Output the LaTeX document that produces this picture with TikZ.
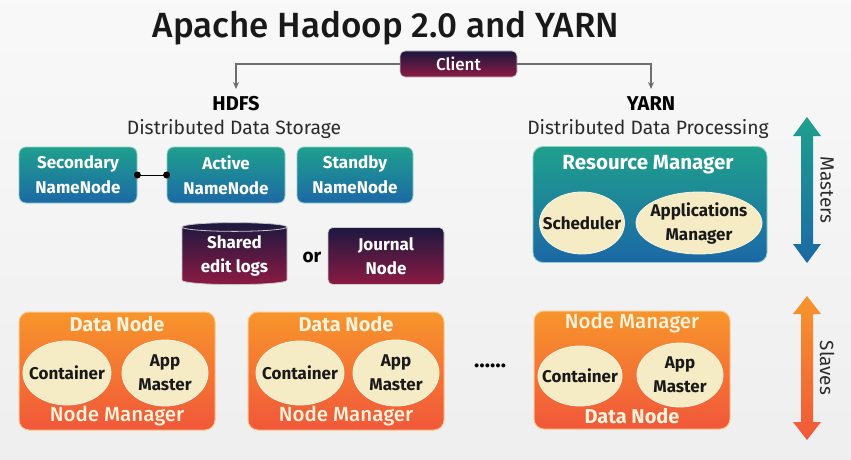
\documentclass[tikz,border=0pt]{standalone}
\usepackage{fontspec}
\setmainfont{Fira Sans}
\newfontfamily\mediumfont{Fira Sans Medium}
\usetikzlibrary{shapes.geometric,arrows.meta}
\definecolor{tealtop}{HTML}{1FA08D}
\definecolor{bluebot}{HTML}{1C68A6}
\definecolor{navytop}{HTML}{1B1840}
\definecolor{maroonbot}{HTML}{8C1A42}
\definecolor{orangetop}{HTML}{F7952B}
\definecolor{orangebot}{HTML}{F1573A}
\definecolor{cream}{HTML}{F5EBC5}
\definecolor{linegray}{HTML}{6E6E6E}
\definecolor{inktext}{HTML}{2A2A2A}
\begin{document}
\begin{tikzpicture}[x=1pt,y=-1pt,
    tealbox/.style={rectangle,rounded corners=7pt,top color=tealtop,bottom color=bluebot,draw=tealtop!50!white,line width=0.8pt,text=white,font=\bfseries\fontsize{17}{25}\selectfont,align=center,minimum width=118pt,minimum height=56pt,inner sep=0pt},
    darkbox/.style={rectangle,rounded corners=5pt,top color=navytop,bottom color=maroonbot,draw=gray!40,line width=0.6pt,text=white,font=\bfseries\fontsize{17}{24}\selectfont,align=center,inner sep=0pt},
    orangebox/.style={rectangle,rounded corners=10pt,top color=orangetop,bottom color=orangebot,draw=orangetop!55!white,line width=1pt,minimum width=196pt,minimum height=118pt},
    bubble/.style={ellipse,fill=cream,draw=cream!50!white,line width=0.8pt,inner xsep=-16pt,inner ysep=-10pt,font=\bfseries\fontsize{17}{24}\selectfont,align=center,text=black!90},
    boxtitle/.style={text=white,font=\bfseries\fontsize{20.5}{22}\selectfont},
    orangetitle/.style={text=cream!60!white,font=\bfseries\fontsize{20}{22}\selectfont},
    nmtitle/.style={text=cream!60!white,font=\mediumfont\fontsize{20.5}{22}\selectfont},
    heading/.style={text=black,font=\bfseries\fontsize{20}{22}\selectfont},
    subheading/.style={text=inktext,font=\fontsize{19.3}{22}\selectfont},
    sidelabel/.style={text=inktext,font=\fontsize{19}{22}\selectfont,rotate=-90},
    conn/.style={draw=linegray,line width=1.3pt,-{Stealth[length=7pt,width=6pt]}}]

    \shade[top color=gray!5,bottom color=gray!13] (0,0) rectangle (851,460);
    \useasboundingbox (0,0) rectangle (851,460);

    \node[text=black!90,font=\mediumfont\fontsize{35}{40}\selectfont] (title) at (386,28) {Apache Hadoop 2.0 and YARN};
    \node[darkbox,minimum width=117pt,minimum height=26pt,font=\mediumfont\fontsize{17}{18}\selectfont] (client) at (458.5,64) {Client};

    \node[heading] (hdfs) at (236,104) {HDFS};
    \node[subheading] (hdfssub) at (234,129) {Distributed Data Storage};
    \node[heading] (yarn) at (651,104) {YARN};
    \node[subheading] (yarnsub) at (648,129) {Distributed Data Processing};
    \coordinate (hdfsin) at (236,89);
    \coordinate (yarnin) at (651,89);
    \draw[conn] (client.west) -| (hdfsin);
    \draw[conn] (client.east) -| (yarnin);

    \node[tealbox] (secnn) at (78,175) {Secondary\\NameNode};
    \node[tealbox] (activenn) at (226,175) {Active\\NameNode};
    \node[tealbox,minimum width=116pt] (standbynn) at (355,175) {Standby\\NameNode};
    \draw[line width=1pt,black] (secnn.east) -- (activenn.west);
    \fill[black] (secnn.east) circle (3.5) (activenn.west) circle (3.5);

    \node[cylinder,shape border rotate=90,aspect=0.13,top color=navytop,bottom color=maroonbot,draw=gray!45,line width=0.8pt,minimum width=105pt,minimum height=62pt,inner sep=0pt,text=white,font=\bfseries\fontsize{17}{24}\selectfont,align=center] (editlogs) at (234.5,256) {Shared\\edit logs};
    \node[text=black,font=\bfseries\fontsize{19}{20}\selectfont] (ortext) at (312,257) {or};
    \node[darkbox,minimum width=116pt,minimum height=57pt] (journal) at (386,256) {Journal\\Node};

    \node[tealbox,minimum width=234pt,minimum height=116pt,rounded corners=10pt] (resmgr) at (650,204.5) {};
    \node[boxtitle] (resmgrtitle) at (648,165) {Resource Manager};
    \node[bubble,minimum width=85pt,minimum height=62pt] (scheduler) at (582,223) {Scheduler};
    \node[bubble,minimum width=126pt,minimum height=62pt] (appsmgr) at (699,223) {Applications\\Manager};

    \node[orangebox] (slave1) at (117,371) {};
    \node[orangetitle] (slave1top) at (117,324) {Data Node};
    \node[bubble,minimum width=88pt,minimum height=64pt] (cont1) at (67,373) {Container};
    \node[bubble,minimum width=86pt,minimum height=66pt] (appm1) at (165,373) {App\\Master};
    \node[nmtitle] (slave1bot) at (117,416) {Node Manager};

    \node[orangebox] (slave2) at (346,371) {};
    \node[orangetitle] (slave2top) at (346,324) {Data Node};
    \node[bubble,minimum width=88pt,minimum height=64pt] (cont2) at (300,373) {Container};
    \node[bubble,minimum width=86pt,minimum height=66pt] (appm2) at (396,373) {App\\Master};
    \node[nmtitle] (slave2bot) at (346,416) {Node Manager};

    \node[font=\bfseries\fontsize{22}{22}\selectfont] (moredots) at (490,366) {……};

    \node[orangebox] (slave3) at (632,370) {};
    \node[nmtitle] (slave3top) at (632,323) {Node Manager};
    \node[bubble,minimum width=84pt,minimum height=60pt] (cont3) at (580,376) {Container};
    \node[bubble,minimum width=86pt,minimum height=64pt] (appm3) at (680,375) {App\\Master};
    \node[orangetitle] (slave3bot) at (632,416) {Data Node};

    \shade[top color=tealtop,bottom color=bluebot] (807,117) -- (821,136) -- (813,136) -- (813,244) -- (821,244) -- (807,263) -- (793,244) -- (801,244) -- (801,136) -- (793,136) -- cycle;
    \node[sidelabel] (masters) at (827,190) {Masters};
    \shade[top color=orangetop,bottom color=orangebot] (807,296) -- (821,314) -- (813,314) -- (813,422) -- (821,422) -- (807,440) -- (793,422) -- (801,422) -- (801,314) -- (793,314) -- cycle;
    \node[sidelabel] (slaves) at (827,368) {Slaves};
\end{tikzpicture}
\end{document}
